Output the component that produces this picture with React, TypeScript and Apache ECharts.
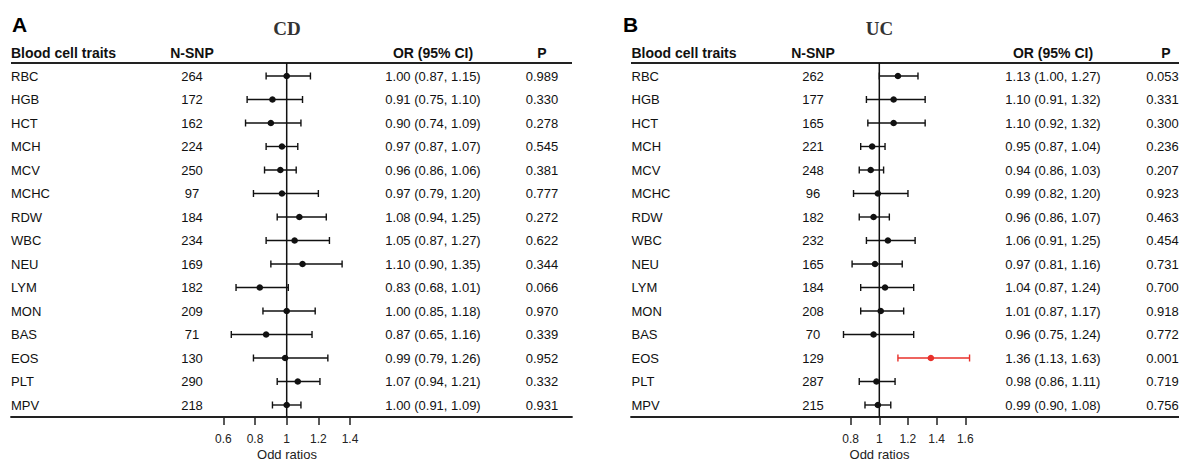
import React, { useEffect, useRef } from "react";
import * as echarts from "echarts";

// ---------- data ----------
const traits = ["RBC", "HGB", "HCT", "MCH", "MCV", "MCHC", "RDW", "WBC", "NEU", "LYM", "MON", "BAS", "EOS", "PLT", "MPV"];

const cdNSnp = [264, 172, 162, 224, 250, 97, 184, 234, 169, 182, 209, 71, 130, 290, 218];
const cdOR = [1.0, 0.91, 0.9, 0.97, 0.96, 0.97, 1.08, 1.05, 1.1, 0.83, 1.0, 0.87, 0.99, 1.07, 1.0];
const cdLower = [0.87, 0.75, 0.74, 0.87, 0.86, 0.79, 0.94, 0.87, 0.9, 0.68, 0.85, 0.65, 0.79, 0.94, 0.91];
const cdUpper = [1.15, 1.1, 1.09, 1.07, 1.06, 1.2, 1.25, 1.27, 1.35, 1.01, 1.18, 1.16, 1.26, 1.21, 1.09];
const cdP = [0.989, 0.33, 0.278, 0.545, 0.381, 0.777, 0.272, 0.622, 0.344, 0.066, 0.97, 0.339, 0.952, 0.332, 0.931];

const ucNSnp = [262, 177, 165, 221, 248, 96, 182, 232, 165, 184, 208, 70, 129, 287, 215];
const ucOR = [1.13, 1.1, 1.1, 0.95, 0.94, 0.99, 0.96, 1.06, 0.97, 1.04, 1.01, 0.96, 1.36, 0.98, 0.99];
const ucLower = [1.0, 0.91, 0.92, 0.87, 0.86, 0.82, 0.86, 0.91, 0.81, 0.87, 0.87, 0.75, 1.13, 0.86, 0.9];
const ucUpper = [1.27, 1.32, 1.32, 1.04, 1.03, 1.2, 1.07, 1.25, 1.16, 1.24, 1.17, 1.24, 1.63, 1.11, 1.08];
const ucP = [0.053, 0.331, 0.3, 0.236, 0.207, 0.923, 0.463, 0.454, 0.731, 0.7, 0.918, 0.772, 0.001, 0.719, 0.756];

const cdTicks = [0.6, 0.8, 1, 1.2, 1.4];
const ucTicks = [0.8, 1, 1.2, 1.4, 1.6];

const headers = ["Blood cell traits", "N-SNP", "OR (95% CI)", "P"];
const panelTitles = ["CD", "UC"];
const panelLetters = ["A", "B"];
const axisName = "Odd ratios";

// ---------- layout ----------
const SANS = "Arial, 'Liberation Sans', Helvetica, sans-serif";
const SERIF = "'Times New Roman', 'Liberation Serif', serif";
const INK = "#111";
const RED = "#e8302a";
const Y_MIN = -13 / 23.5;
const Y_MAX = 14 + 12 / 23.5;

const panels = [
  {
    gridLeft: 11, gridWidth: 561, xMin: -0.7416, xMax: 2.8023,
    cols: { trait: 11, nsnp: 192, or: 433, p: 542, pHead: 542 }, refX: 287,
    letterX: 12, ticks: cdTicks,
    nsnp: cdNSnp, or: cdOR, lo: cdLower, hi: cdUpper, p: cdP,
  },
  {
    gridLeft: 631, gridWidth: 548, xMin: -0.7333, xMax: 3.092,
    cols: { trait: 631.5, nsnp: 813, or: 1053, p: 1162.5, pHead: 1166 }, refX: 879.5,
    letterX: 623, ticks: ucTicks,
    nsnp: ucNSnp, or: ucOR, lo: ucLower, hi: ucUpper, p: ucP,
  },
];

function fmt2(v: number) {
  return v.toFixed(2);
}

export default function App() {
  const ref = useRef<HTMLDivElement>(null);

  useEffect(() => {
    if (!ref.current) return;
    const chart = echarts.init(ref.current, undefined, { renderer: "svg" });

    const grid: any[] = [];
    const xAxis: any[] = [];
    const yAxis: any[] = [];
    const series: any[] = [];
    const graphic: any[] = [];

    panels.forEach((pn, k) => {
      grid.push({ left: pn.gridLeft, width: pn.gridWidth, top: 63, bottom: 44, containLabel: false });
      xAxis.push({
        type: "value",
        gridIndex: k,
        min: pn.xMin,
        max: pn.xMax,
        axisLine: { show: true, onZero: false, lineStyle: { color: "#222", width: 1.8 } },
        axisTick: { show: true, customValues: pn.ticks, length: 8, lineStyle: { color: "#222", width: 1.5 } },
        axisLabel: {
          show: true,
          customValues: pn.ticks,
          margin: 15,
          fontSize: 12,
          lineHeight: 13,
          fontFamily: SANS,
          color: "#222",
          formatter: (v: number) => String(v),
        },
        splitLine: { show: false },
      });
      yAxis.push({ type: "value", gridIndex: k, min: Y_MIN, max: Y_MAX, inverse: true, show: false });

      // reference line at OR = 1
      series.push({
        type: "line",
        xAxisIndex: k,
        yAxisIndex: k,
        data: [[1, Y_MIN], [1, Y_MAX]],
        symbol: "none",
        silent: true,
        lineStyle: { color: INK, width: 1.5 },
      });

      // error bars + points
      const ebData = traits.map((_, i) => [pn.lo[i], pn.hi[i], pn.or[i], i, pn.p[i] < 0.05 ? 1 : 0]);
      series.push({
        type: "custom",
        xAxisIndex: k,
        yAxisIndex: k,
        silent: true,
        encode: { x: [0, 1, 2], y: 3 },
        data: ebData,
        renderItem: (_p: any, api: any) => {
          const i = api.value(3);
          const a = api.coord([api.value(0), i]);
          const b = api.coord([api.value(1), i]);
          const c = api.coord([api.value(2), i]);
          const col = api.value(4) ? RED : INK;
          const ls = { stroke: col, lineWidth: 1.4 };
          return {
            type: "group",
            children: [
              { type: "line", shape: { x1: a[0], y1: a[1], x2: b[0], y2: b[1] }, style: ls },
              { type: "line", shape: { x1: a[0], y1: a[1] - 3.5, x2: a[0], y2: a[1] + 3.5 }, style: ls },
              { type: "line", shape: { x1: b[0], y1: b[1] - 3.5, x2: b[0], y2: b[1] + 3.5 }, style: ls },
              { type: "circle", shape: { cx: c[0], cy: c[1], r: 3.3 }, style: { fill: col } },
            ],
          };
        },
      });

      // table text columns
      const txtData = traits.map((_, i) => [1, i]);
      series.push({
        type: "custom",
        xAxisIndex: k,
        yAxisIndex: k,
        silent: true,
        clip: false,
        encode: { x: 0, y: 1 },
        data: txtData,
        renderItem: (_p: any, api: any) => {
          const i = api.value(1);
          const y = api.coord([1, i])[1];
          const base = { fontSize: 13, fontFamily: SANS, fill: INK, verticalAlign: "middle" };
          const orText = `${fmt2(pn.or[i])} (${fmt2(pn.lo[i])}, ${fmt2(pn.hi[i])})`;
          return {
            type: "group",
            children: [
              { type: "text", x: pn.cols.trait, y, style: { ...base, text: traits[i], align: "left" } },
              { type: "text", x: pn.cols.nsnp, y, style: { ...base, text: String(pn.nsnp[i]), align: "center" } },
              { type: "text", x: pn.cols.or, y, style: { ...base, text: orText, align: "center" } },
              { type: "text", x: pn.cols.p, y, style: { ...base, text: pn.p[i].toFixed(3), align: "center" } },
            ],
          };
        },
      });

      // headers
      const hb = { fontSize: 14, fontWeight: "bold", fontFamily: SANS, fill: INK, verticalAlign: "middle" };
      graphic.push({ type: "text", x: pn.cols.trait, y: 53, style: { ...hb, text: headers[0], align: "left" } });
      graphic.push({ type: "text", x: pn.cols.nsnp, y: 53, style: { ...hb, text: headers[1], align: "center" } });
      graphic.push({ type: "text", x: pn.cols.or, y: 53, style: { ...hb, text: headers[2], align: "center" } });
      graphic.push({ type: "text", x: pn.cols.pHead, y: 53, style: { ...hb, text: headers[3], align: "center" } });
      graphic.push({
        type: "line",
        shape: { x1: pn.gridLeft, y1: 63, x2: pn.gridLeft + pn.gridWidth, y2: 63 },
        style: { stroke: "#222", lineWidth: 1.8 },
      });
      graphic.push({
        type: "text", x: pn.refX, y: 28,
        style: { text: panelTitles[k], fontSize: 19, fontWeight: "bold", fontFamily: SERIF, fill: "#333", align: "center", verticalAlign: "middle" },
      });
      graphic.push({
        type: "text", x: pn.letterX, y: 24,
        style: { text: panelLetters[k], fontSize: 21, fontWeight: "bold", fontFamily: SANS, fill: "#000", align: "left", verticalAlign: "middle" },
      });
      graphic.push({
        type: "text", x: pn.refX, y: 454.5,
        style: { text: axisName, fontSize: 13, lineHeight: 13, fontFamily: SANS, fill: "#222", align: "center", verticalAlign: "middle" },
      });
    });

    chart.setOption({
      animation: false,
      backgroundColor: "#fff",
      grid,
      xAxis,
      yAxis,
      series,
      graphic,
    });

    return () => chart.dispose();
  }, []);

  return (
    <div
      ref={ref}
      style={{ position: "fixed", left: 0, top: 0, width: 1179, height: 461, background: "#fff" }}
    />
  );
}
